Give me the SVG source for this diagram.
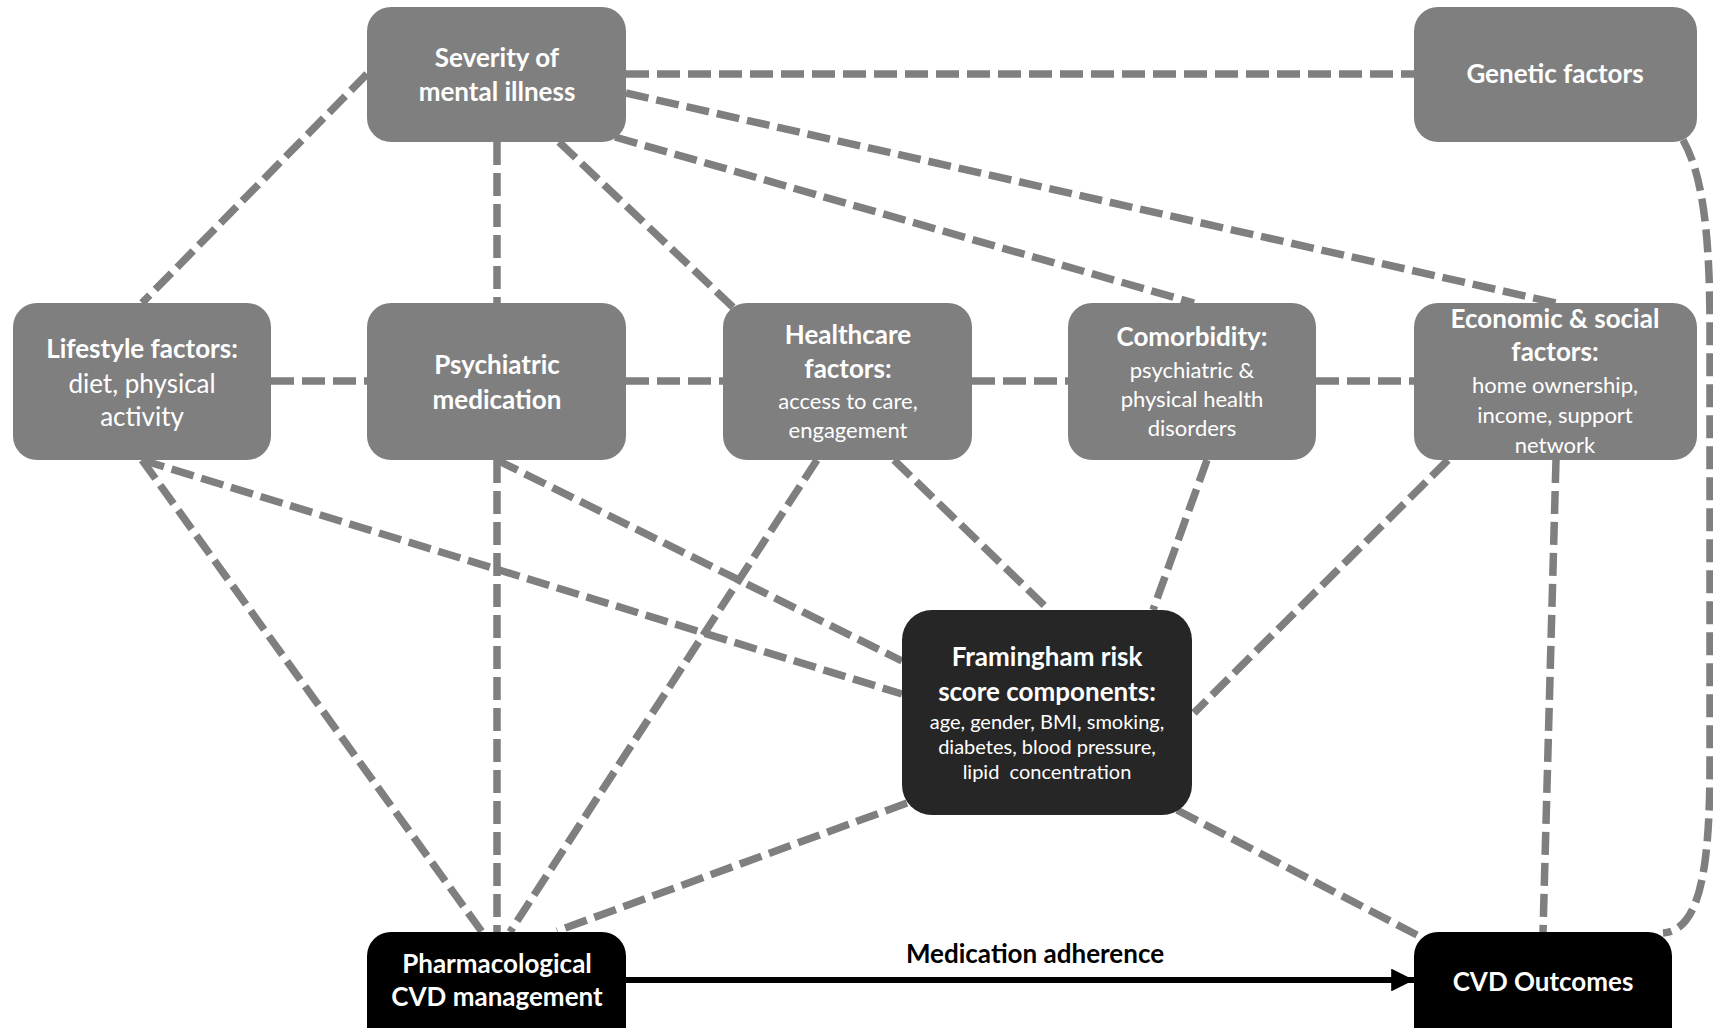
<svg xmlns="http://www.w3.org/2000/svg" width="1713" height="1028" viewBox="0 0 1713 1028">
  <defs>
    <marker id="arrowhead" viewBox="0 0 10 10" refX="10" refY="5" markerWidth="3.8" markerHeight="3.8" markerUnits="strokeWidth" orient="auto">
      <path d="M0,0 L10,5 L0,10 Z" fill="#000000"/>
    </marker>
  </defs>
  <style>
    .link { fill: none; stroke: #7f7f7f; stroke-width: 7.5; stroke-dasharray: 23 8; }
    .flow { fill: none; stroke: #000000; stroke-width: 6; }
    .grey { fill: #7f7f7f; }
    .dark { fill: #262626; }
    .black { fill: #000000; }
    text { font-family: Lato, "Open Sans", "Liberation Sans", sans-serif; fill: #ffffff; text-anchor: middle; white-space: pre; }
    .t { font-weight: 700; font-size: 26px; }
    .s { font-weight: 400; font-size: 26px; }
    .m { font-weight: 400; font-size: 22px; }
    .f { font-weight: 400; font-size: 20px; }
    .lbl { fill: #000000; font-weight: 700; font-size: 26px; }
  </style>

  <!-- associations between factors -->
  <g id="connectors">
    <line class="link" x1="626" y1="74" x2="1414" y2="74"/>
    <line class="link" x1="367" y1="74" x2="142" y2="303"/>
    <line class="link" x1="497" y1="142" x2="497" y2="303"/>
    <line class="link" x1="559" y1="142" x2="737" y2="311"/>
    <line class="link" x1="615" y1="137" x2="1194" y2="303"/>
    <line class="link" x1="626" y1="93" x2="1556" y2="303"/>
    <path class="link" d="M1683,140 C1700,170 1710,220 1710,330 L1710,760 C1710,870 1700,930 1663,933"/>
    <line class="link" x1="271" y1="381" x2="367" y2="381"/>
    <line class="link" x1="626" y1="381" x2="723" y2="381"/>
    <line class="link" x1="972" y1="381" x2="1068" y2="381"/>
    <line class="link" x1="1316" y1="381" x2="1414" y2="381"/>
    <line class="link" x1="142" y1="460" x2="902" y2="694"/>
    <line class="link" x1="142" y1="460" x2="482" y2="932"/>
    <line class="link" x1="497" y1="460" x2="902" y2="661"/>
    <line class="link" x1="497" y1="460" x2="497" y2="932"/>
    <line class="link" x1="817" y1="460" x2="510" y2="932"/>
    <line class="link" x1="894" y1="460" x2="1049" y2="610"/>
    <line class="link" x1="1207" y1="460" x2="1153" y2="610"/>
    <line class="link" x1="1448" y1="460" x2="1194" y2="713"/>
    <line class="link" x1="1556" y1="460" x2="1543" y2="932"/>
    <line class="link" x1="907" y1="803" x2="557" y2="931"/>
    <line class="link" x1="1177" y1="810" x2="1417" y2="935"/>
    <line class="flow" x1="626" y1="980" x2="1414" y2="980" marker-end="url(#arrowhead)"/>
    <text class="lbl" x="1035" y="963">Medication adherence</text>
  </g>

  <g id="severity">
    <rect class="grey" x="367" y="7" width="259" height="135" rx="24"/>
    <text class="t" x="497" y="67">Severity of</text>
    <text class="t" x="497" y="101">mental illness</text>
  </g>

  <g id="genetic">
    <rect class="grey" x="1414" y="7" width="283" height="135" rx="24"/>
    <text class="t" x="1555" y="83">Genetic factors</text>
  </g>

  <g id="lifestyle">
    <rect class="grey" x="13" y="303" width="258" height="157" rx="24"/>
    <text class="t" x="142" y="358">Lifestyle factors:</text>
    <text class="s" x="142" y="393">diet, physical</text>
    <text class="s" x="142" y="426">activity</text>
  </g>

  <g id="psychiatric">
    <rect class="grey" x="367" y="303" width="259" height="157" rx="24"/>
    <text class="t" x="497" y="374">Psychiatric</text>
    <text class="t" x="497" y="409">medication</text>
  </g>

  <g id="healthcare">
    <rect class="grey" x="723" y="303" width="249" height="157" rx="24"/>
    <text class="t" x="848" y="344">Healthcare</text>
    <text class="t" x="848" y="378">factors:</text>
    <text class="m" x="848" y="409">access to care,</text>
    <text class="m" x="848" y="438">engagement</text>
  </g>

  <g id="comorbidity">
    <rect class="grey" x="1068" y="303" width="248" height="157" rx="24"/>
    <text class="t" x="1192" y="346">Comorbidity:</text>
    <text class="m" x="1192" y="378">psychiatric &amp;</text>
    <text class="m" x="1192" y="407">physical health</text>
    <text class="m" x="1192" y="436">disorders</text>
  </g>

  <g id="economic">
    <rect class="grey" x="1414" y="303" width="283" height="157" rx="24"/>
    <text class="t" x="1555" y="328">Economic &amp; social</text>
    <text class="t" x="1555" y="361">factors:</text>
    <text class="m" x="1555" y="393">home ownership,</text>
    <text class="m" x="1555" y="423">income, support</text>
    <text class="m" x="1555" y="453">network</text>
  </g>

  <g id="framingham">
    <rect class="dark" x="902" y="610" width="290" height="205" rx="30"/>
    <text class="t" x="1047" y="666">Framingham risk</text>
    <text class="t" x="1047" y="701">score components:</text>
    <text class="f" x="1047" y="729">age, gender, BMI, smoking,</text>
    <text class="f" x="1047" y="754">diabetes, blood pressure,</text>
    <text class="f" x="1047" y="779">lipid  concentration</text>
  </g>

  <g id="pharmacological">
    <rect class="black" x="367" y="932" width="259" height="130" rx="24"/>
    <text class="t" x="497" y="973">Pharmacological</text>
    <text class="t" x="497" y="1006">CVD management</text>
  </g>

  <g id="cvd-outcomes">
    <rect class="black" x="1414" y="932" width="258" height="130" rx="24"/>
    <text class="t" x="1543" y="991">CVD Outcomes</text>
  </g>
</svg>
